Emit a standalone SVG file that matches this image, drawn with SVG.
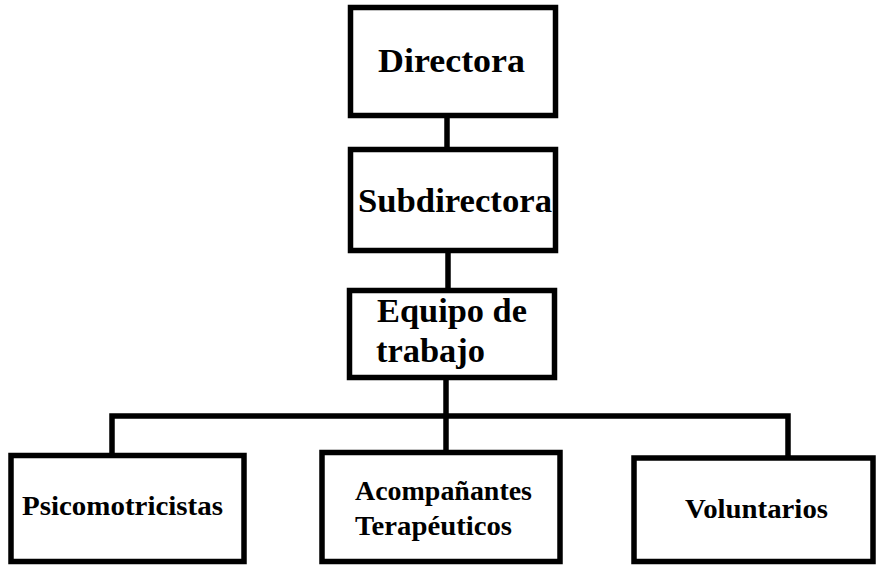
<svg xmlns="http://www.w3.org/2000/svg" width="880" height="565" viewBox="0 0 880 565">
<style>
.box{fill:#fff;stroke:#000;stroke-width:5.5}
.ln{fill:none;stroke:#000;stroke-width:5.5;stroke-linejoin:miter;stroke-linecap:square}
.big{font-family:"Liberation Serif","Times New Roman",serif;font-weight:bold;font-size:34px;fill:#000}
.sm{font-family:"Liberation Serif","Times New Roman",serif;font-weight:bold;font-size:28px;fill:#000}
</style>
<rect width="880" height="565" fill="#fff"/>
<g id="connectors">
<line class="ln" x1="447" y1="118" x2="447" y2="147"/>
<line class="ln" x1="448" y1="253" x2="448" y2="288"/>
<line class="ln" x1="446" y1="380" x2="446" y2="450"/>
<polyline class="ln" points="112,453 112,416 788,416 788,455"/>
</g>
<g id="directora">
<rect class="box" x="350.5" y="7.5" width="205" height="108"/>
<text class="big" x="378" y="72" textLength="147" lengthAdjust="spacingAndGlyphs">Directora</text>
</g>
<g id="subdirectora">
<rect class="box" x="350.5" y="149.5" width="205" height="101"/>
<text class="big" x="358" y="212" textLength="194" lengthAdjust="spacingAndGlyphs">Subdirectora</text>
</g>
<g id="equipo">
<rect class="box" x="349.5" y="290.5" width="205" height="87"/>
<text class="big" x="377" y="322" textLength="150" lengthAdjust="spacingAndGlyphs">Equipo de</text>
<text class="big" x="376" y="362" textLength="109" lengthAdjust="spacingAndGlyphs">trabajo</text>
</g>
<g id="psicomotricistas">
<rect class="box" x="11" y="455.5" width="233" height="106"/>
<text class="sm" x="22" y="515" textLength="201" lengthAdjust="spacingAndGlyphs">Psicomotricistas</text>
</g>
<g id="acompanantes">
<rect class="box" x="322" y="452.5" width="238" height="109"/>
<text class="sm" x="355" y="500" textLength="177" lengthAdjust="spacingAndGlyphs">Acompañantes</text>
<text class="sm" x="355" y="535" textLength="157" lengthAdjust="spacingAndGlyphs">Terapéuticos</text>
</g>
<g id="voluntarios">
<rect class="box" x="634" y="458" width="239" height="103.5"/>
<text class="sm" x="685" y="518" textLength="143" lengthAdjust="spacingAndGlyphs">Voluntarios</text>
</g>
</svg>
